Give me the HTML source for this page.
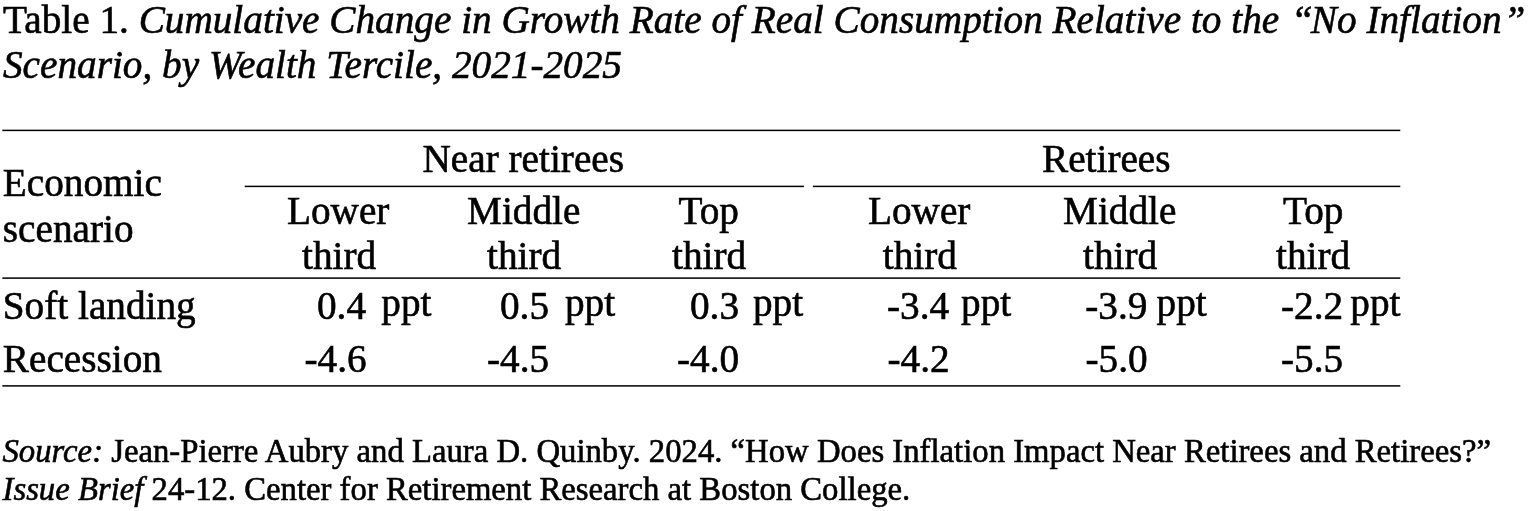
<!DOCTYPE html>
<html lang="en">
<head>
<meta charset="utf-8">
<title>Table 1. Cumulative Change in Growth Rate of Real Consumption</title>
<style>
html,body{margin:0;padding:0;background:#fff;}
body{width:1536px;height:511px;position:relative;overflow:hidden;font-family:"Liberation Serif",serif;font-size:39.24px;color:#000;}
figure,figcaption,h1,p,table,thead,tbody,tr,th,td{display:block;margin:0;padding:0;border:0;font:inherit;font-weight:normal;text-align:left;}
.t{position:absolute;top:0;display:block;white-space:pre;line-height:0;-webkit-text-stroke:0.6px #000;}
.s{display:inline-block;width:0;vertical-align:baseline;}
.q{position:relative;left:2px;}
.r{position:absolute;left:0;top:0;display:block;}
</style>
</head>
<body>
<figure>
<svg class="r" width="1536" height="511" viewBox="0 0 1536 511" aria-hidden="true">
<rect x="2.3" y="129.65" width="1398.0" height="1.5" fill="#000"/>
<rect x="244.7" y="185.65" width="559.2" height="1.5" fill="#000"/>
<rect x="812.9" y="185.65" width="587.4" height="1.5" fill="#000"/>
<rect x="2.3" y="277.35" width="1398.0" height="1.5" fill="#000"/>
<rect x="2.3" y="385.15" width="1398.0" height="1.5" fill="#000"/>
</svg>
<figcaption>
<h1><span class="t" style="left:3px"><span class="s" style="height:33px"></span>Table 1. <i>Cumulative Change in Growth Rate of Real Consumption Relative to the <span class="q">“</span>No Inflation<span class="q">”</span></i></span>
<span class="t" style="left:3px"><span class="s" style="height:78px"></span><i>Scenario, by Wealth Tercile, 2021-2025</i></span></h1>
</figcaption>
<table>
<thead>
<tr>
<th rowspan="2" scope="col"><span class="t" style="left:2.8px"><span class="s" style="height:196px"></span>Economic</span>
<span class="t" style="left:2.8px"><span class="s" style="height:242px"></span>scenario</span></th>
<th colspan="3" scope="colgroup"><span class="t" style="left:422.5px"><span class="s" style="height:172px"></span>Near retirees</span></th>
<th colspan="3" scope="colgroup"><span class="t" style="left:1042px"><span class="s" style="height:172px"></span>Retirees</span></th>
</tr>
<tr>
<th scope="col"><span class="t" style="left:287px"><span class="s" style="height:224px"></span>Lower</span>
<span class="t" style="left:302px"><span class="s" style="height:269px"></span>third</span></th>
<th scope="col"><span class="t" style="left:467px"><span class="s" style="height:224px"></span>Middle</span>
<span class="t" style="left:487px"><span class="s" style="height:269px"></span>third</span></th>
<th scope="col"><span class="t" style="left:678.5px"><span class="s" style="height:224px"></span>Top</span>
<span class="t" style="left:672px"><span class="s" style="height:269px"></span>third</span></th>
<th scope="col"><span class="t" style="left:868px"><span class="s" style="height:224px"></span>Lower</span>
<span class="t" style="left:882.8px"><span class="s" style="height:269px"></span>third</span></th>
<th scope="col"><span class="t" style="left:1063px"><span class="s" style="height:224px"></span>Middle</span>
<span class="t" style="left:1083px"><span class="s" style="height:269px"></span>third</span></th>
<th scope="col"><span class="t" style="left:1283px"><span class="s" style="height:224px"></span>Top</span>
<span class="t" style="left:1276px"><span class="s" style="height:269px"></span>third</span></th>
</tr>
</thead>
<tbody>
<tr>
<th scope="row"><span class="t" style="left:2.8px"><span class="s" style="height:319px"></span>Soft landing</span></th>
<td><span class="t" style="left:317px"><span class="s" style="height:319px"></span>0.4</span> <span class="t" style="left:381.3px"><span class="s" style="height:316px"></span>ppt</span></td>
<td><span class="t" style="left:500px"><span class="s" style="height:319px"></span>0.5</span> <span class="t" style="left:565px"><span class="s" style="height:316px"></span>ppt</span></td>
<td><span class="t" style="left:690px"><span class="s" style="height:319px"></span>0.3</span> <span class="t" style="left:753px"><span class="s" style="height:316px"></span>ppt</span></td>
<td><span class="t" style="left:887px"><span class="s" style="height:319px"></span>-3.4</span> <span class="t" style="left:961.1px"><span class="s" style="height:316px"></span>ppt</span></td>
<td><span class="t" style="left:1085.3px"><span class="s" style="height:319px"></span>-3.9</span> <span class="t" style="left:1156.6px"><span class="s" style="height:316px"></span>ppt</span></td>
<td><span class="t" style="left:1281px"><span class="s" style="height:319px"></span>-2.2</span> <span class="t" style="left:1350.3px"><span class="s" style="height:316px"></span>ppt</span></td>
</tr>
<tr>
<th scope="row"><span class="t" style="left:2.8px"><span class="s" style="height:372px"></span>Recession</span></th>
<td><span class="t" style="left:304.5px"><span class="s" style="height:372px"></span>-4.6</span></td>
<td><span class="t" style="left:487px"><span class="s" style="height:372px"></span>-4.5</span></td>
<td><span class="t" style="left:677px"><span class="s" style="height:372px"></span>-4.0</span></td>
<td><span class="t" style="left:887.5px"><span class="s" style="height:372px"></span>-4.2</span></td>
<td><span class="t" style="left:1085.5px"><span class="s" style="height:372px"></span>-5.0</span></td>
<td><span class="t" style="left:1281px"><span class="s" style="height:372px"></span>-5.5</span></td>
</tr>
</tbody>
</table>
<p><span class="t" style="left:2.5px;font-size:32.735px"><span class="s" style="height:462px"></span><i>Source:</i> Jean-Pierre Aubry and Laura D. Quinby. 2024. “How Does Inflation Impact Near Retirees and Retirees?”</span>
<span class="t" style="left:2.5px;font-size:32.735px"><span class="s" style="height:500px"></span><i>Issue Brief</i> 24-12. Center for Retirement Research at Boston College.</span></p>
</figure>
</body>
</html>
